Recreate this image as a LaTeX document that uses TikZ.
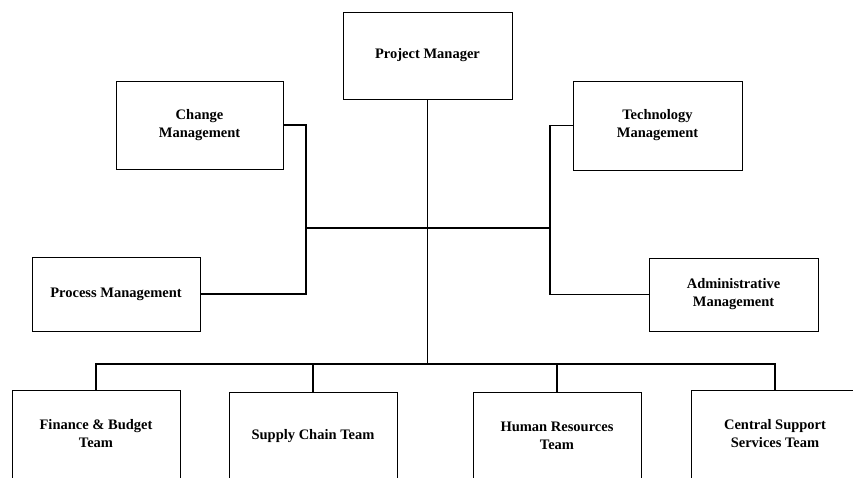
\documentclass[tikz,border=0pt]{standalone}
\usepackage{fontspec}
\setmainfont{Liberation Serif}
\begin{document}
\begin{tikzpicture}[x=1pt,y=-1pt,
  box/.style={draw=black,line width=0.9pt,rectangle,align=center,inner sep=0pt,
    font=\fontsize{14.5}{18}\selectfont\bfseries,text=black},
  conn/.style={draw=black,line width=1.3pt}]
\clip (0,0) rectangle (853,477);
\fill[white] (0,0) rectangle (853,477);
% top level
\node[box,minimum width=169pt,minimum height=87pt] (pm) at (427.5,55.5) {Project Manager};
\node[box,minimum width=167pt,minimum height=88pt] (cm) at (199.5,125) {Change\\Management};
\node[box,minimum width=169pt,minimum height=89pt] (tm) at (657.5,125.5) {Technology\\Management};
\node[box,minimum width=168pt,minimum height=74pt] (pr) at (116,294) {Process Management};
\node[box,minimum width=169pt,minimum height=73pt] (am) at (733.5,294.5) {Administrative\\Management};
% teams
\node[box,minimum width=168pt,minimum height=88pt] (fb) at (96,434) {Finance \& Budget\\Team};
\node[box,minimum width=168pt,minimum height=88pt] (sc) at (313,436) {Supply Chain Team};
\node[box,minimum width=168pt,minimum height=88pt] (hr) at (557,436) {Human Resources\\Team};
\node[box,minimum width=168pt,minimum height=88pt] (cs) at (775,434) {Central Support\\Services Team};
% junctions
\coordinate (jl) at (306,228);
\coordinate (jr) at (550,228);
\coordinate (bus) at (0,364);
% connectors
\draw[conn] (cm.east) -| (jl) -- (jr) |- (tm.west);
\draw[conn] (pr.east) -| (jl);
\draw[conn] (am.west) -| (jr);
\draw[conn] (pm.south) -- (pm.south |- bus);
\draw[conn] (fb.north) -- (fb.north |- bus) -- (cs.north |- bus) -- (cs.north);
\draw[conn] (sc.north) -- (sc.north |- bus);
\draw[conn] (hr.north) -- (hr.north |- bus);
\end{tikzpicture}
\end{document}
